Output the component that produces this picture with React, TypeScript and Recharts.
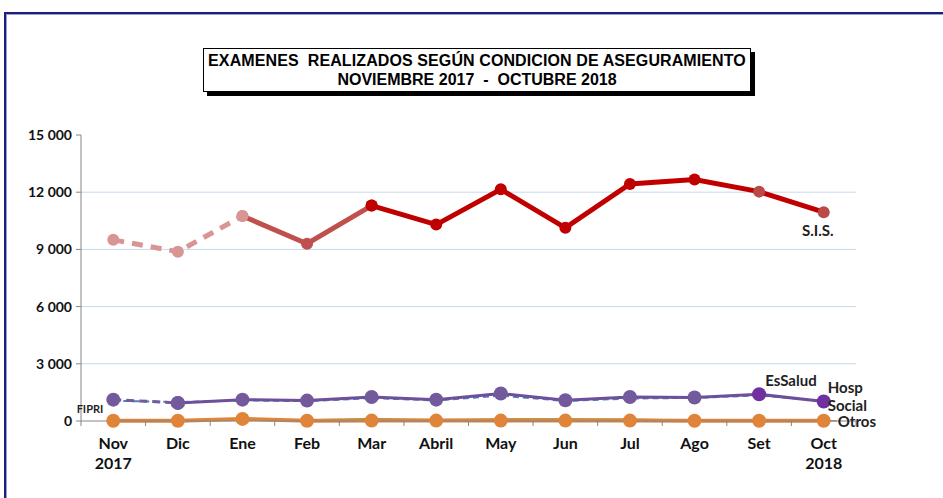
import { CartesianGrid, Line, LineChart, XAxis, YAxis } from "recharts";

// Values (Nov 2017 - Oct 2018)
const months = ["Nov", "Dic", "Ene", "Feb", "Mar", "Abril", "May", "Jun", "Jul", "Ago", "Set", "Oct"];
const years = ["2017", "", "", "", "", "", "", "", "", "", "", "2018"];
const sis = [9500, 8880, 10750, 9300, 11300, 10300, 12150, 10130, 12430, 12670, 12030, 10950];
const essalud = [1120, 950, 1120, 1070, 1260, 1120, 1440, 1090, 1260, 1230, 1400, 1020];
const hosp = [1060, 990, 1080, 1040, 1200, 1080, 1330, 1050, 1180, 1210, 1340, 1060];
const social = [40, 30, 60, 40, 110, 50, 90, 90, 80, 30, 30, 30];
const fipri = [30, 40, 70, 20, 30, 20, 30, 30, 30, 20, 20, 20];
const otros = [10, 10, 110, 10, 20, 20, 20, 20, 20, 10, 10, 10];
const yTicks = [0, 3000, 6000, 9000, 12000, 15000];

const pick = (arr: number[], from: number, to: number) =>
  arr.map((v, i) => (i >= from && i <= to ? v : null));

const sisDash = pick(sis, 0, 2);
const sisMid = pick(sis, 2, 4);
const sisMain = pick(sis, 4, 11);
const esDash = pick(essalud, 0, 1);
const esMain = pick(essalud, 1, 11);

const data = months.map((m, i) => ({
  month: m,
  sisDash: sisDash[i],
  sisMid: sisMid[i],
  sisMain: sisMain[i],
  esDash: esDash[i],
  esMain: esMain[i],
  hosp: hosp[i],
  social: social[i],
  fipri: fipri[i],
  otros: otros[i],
}));

const W = 943;
const H = 498;
const PLOT_L = 81;
const PLOT_R = 856;
const HALF = (PLOT_R - PLOT_L) / 24;
const FONT = "Lato, 'Liberation Sans', sans-serif";

const sisDotColors = ["#d99594", "#d99594", "#d99594", "#c0504d", "#c00000", "#c00000", "#c00000", "#c00000", "#c00000", "#c00000", "#b94a48", "#b94a48"];
const esDotColors = ["#735a9c", "#735a9c", "#735a9c", "#735a9c", "#735a9c", "#735a9c", "#735a9c", "#735a9c", "#735a9c", "#735a9c", "#7030a0", "#7030a0"];

const dotOf = (colors: string[] | string, r: number) => (p: any) => {
  const { cx, cy, index, value } = p;
  if (value == null || cx == null || cy == null) return <g key={`n${index}`} />;
  const fill = Array.isArray(colors) ? colors[index] : colors;
  return <circle key={`d${index}`} cx={cx} cy={cy} r={r} fill={fill} stroke="none" />;
};

const labelAt = (idx: number, text: string, dx: number, dy: number, anchor = "start", size = 15, leader = false) => (p: any) => {
  const { x, y, index } = p;
  if (index !== idx || x == null) return <g key={`l${index}`} />;
  return (
    <g key={`l${index}`}>
      {leader && <line x1={x + 6} y1={y} x2={x + dx - 1} y2={y} stroke="#8c8c8c" strokeWidth={1.5} />}
      <text x={x + dx} y={y + dy} textAnchor={anchor} fontFamily={FONT} fontWeight={700} fontSize={size} fill="#222">
        {text}
      </text>
    </g>
  );
};

const MonthTick = (p: any) => {
  const { x, y, payload, index } = p;
  return (
    <g>
      {index === 0 && <line x1={x - HALF} y1={y} x2={x - HALF} y2={y + 5} stroke="#868686" />}
      <line x1={x + HALF} y1={y} x2={x + HALF} y2={y + 5} stroke="#868686" />
      <text x={x} y={y + 28} textAnchor="middle" fontFamily={FONT} fontWeight={700} fontSize={16} fill="#111">
        {payload.value}
      </text>
      {years[index] && (
        <text x={x} y={y + 48} textAnchor="middle" fontFamily={FONT} fontWeight={700} fontSize={16} fill="#111">
          {years[index]}
        </text>
      )}
    </g>
  );
};

export default function App() {
  return (
    <div style={{ position: "fixed", left: 0, top: 0, width: W, height: H, overflow: "hidden", background: "#fff" }}>
      <div
        style={{
          position: "absolute",
          left: 4,
          top: 12,
          width: 1000,
          height: 600,
          borderTop: "2px solid #1b1f7a",
          borderLeft: "2px solid #1b1f7a",
          boxShadow: "inset 1px 1px 0 #9aa0d0",
        }}
      />
      <div style={{ position: "absolute", left: 0, top: 0 }}>
        <LineChart width={W} height={H} data={data} margin={{ top: 135, right: W - PLOT_R, bottom: 17, left: 0 }}>
          <CartesianGrid vertical={false} stroke="#c6d9f1" horizontalValues={[3000, 6000, 9000, 12000]} />
          <XAxis
            dataKey="month"
            height={60}
            padding={{ left: HALF, right: HALF }}
            stroke="#868686"
            tickLine={false}
            tickSize={0}
            tickMargin={0}
            interval={0}
            tick={<MonthTick />}
          />
          <YAxis
            width={PLOT_L}
            domain={[0, 15000]}
            ticks={yTicks}
            interval={0}
            stroke="#868686"
            tickSize={5}
            tickMargin={4}
            tick={{ fontFamily: FONT, fontWeight: 700, fontSize: 14, fill: "#111" }}
            tickFormatter={(v: number) => v.toLocaleString("en-US").replace(/,/g, " ")}
          />
          <YAxis yAxisId="r" orientation="right" width={0} domain={[0, 15000]} tick={false} tickLine={false} stroke="#d9d9d9" />

          <Line dataKey="fipri" stroke="#c3d69b" strokeWidth={2} dot={false} isAnimationActive={false}
            label={labelAt(0, "FIPRI", -10, -7, "end", 11)} />
          <Line dataKey="social" stroke="#77933c" strokeWidth={2} dot={false} isAnimationActive={false}
            label={labelAt(11, "Social", 4, -9)} />
          <Line dataKey="otros" stroke="#e0843a" strokeWidth={4} dot={dotOf("#e0843a", 7)} isAnimationActive={false}
            label={labelAt(11, "Otros", 14, 6, "start", 15, true)} />
          <Line dataKey="hosp" stroke="#4f81bd" strokeWidth={2} strokeDasharray="6 4" dot={false} isAnimationActive={false}
            label={labelAt(11, "Hosp", 4, -8)} />
          <Line dataKey="esDash" stroke="#735a9c" strokeWidth={3} strokeDasharray="8 5" dot={dotOf(esDotColors, 7)} isAnimationActive={false} />
          <Line dataKey="esMain" stroke="#6d4f9c" strokeWidth={3} dot={dotOf(esDotColors, 7)} isAnimationActive={false}
            label={labelAt(10, "EsSalud", 6, -8)} />

          <Line dataKey="sisDash" stroke="#d99594" strokeWidth={5} strokeDasharray="11 8" dot={dotOf(sisDotColors, 6)} isAnimationActive={false} />
          <Line dataKey="sisMid" stroke="#c0504d" strokeWidth={5} dot={dotOf(sisDotColors, 6)} isAnimationActive={false} />
          <Line dataKey="sisMain" stroke="#c00000" strokeWidth={5} dot={dotOf(sisDotColors, 6)} isAnimationActive={false}
            label={labelAt(11, "S.I.S.", -6, 24, "middle")} />
        </LineChart>
      </div>
      <div
        style={{
          position: "absolute",
          left: 203,
          top: 48,
          width: 548,
          height: 44,
          border: "1px solid #000",
          boxShadow: "4px 4px 0 #000",
          background: "#fff",
          fontFamily: "'Liberation Sans', Arial, sans-serif",
          fontWeight: 700,
          fontSize: 16,
          lineHeight: "19px",
          textAlign: "center",
          color: "#000",
          paddingTop: 2,
          boxSizing: "border-box",
        }}
      >
        <div style={{ whiteSpace: "pre", letterSpacing: 0.1 }}>EXAMENES  REALIZADOS SEGÚN CONDICION DE ASEGURAMIENTO</div>
        <div style={{ whiteSpace: "pre" }}>NOVIEMBRE 2017  -  OCTUBRE 2018</div>
      </div>
    </div>
  );
}
